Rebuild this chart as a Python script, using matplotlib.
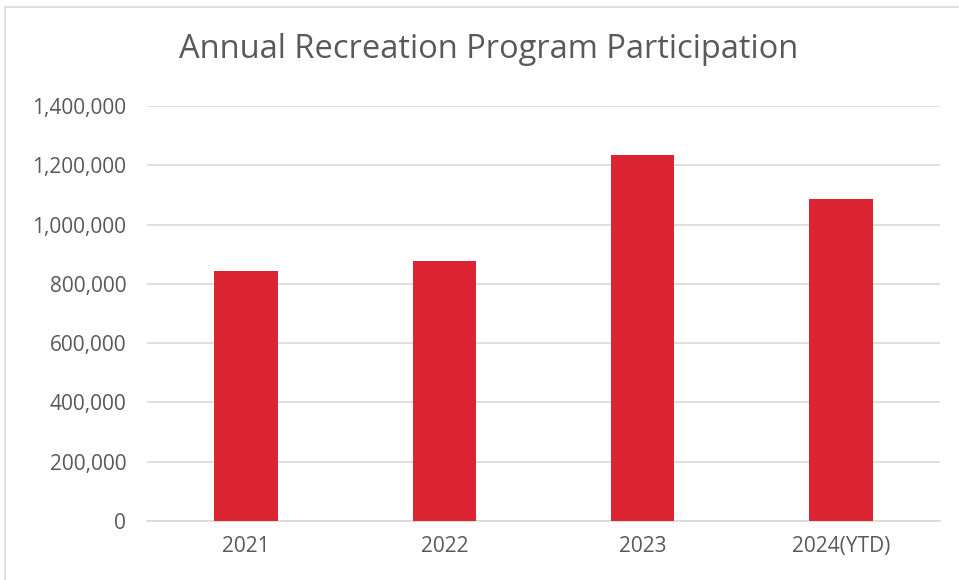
import matplotlib
matplotlib.use("Agg")
import matplotlib.pyplot as plt
from matplotlib.ticker import FuncFormatter
from matplotlib.patches import Rectangle

years = ["2021", "2022", "2023", "2024(YTD)"]
participants = [844000, 876000, 1234000, 1087000]

plt.rcParams['font.family'] = ['Open Sans', 'DejaVu Sans']

fig = plt.figure(figsize=(9.59, 5.8), dpi=100)
ax = fig.add_axes([0.1533, 0.1017, 0.9802 - 0.1533, 0.8172 - 0.1017])

# chart frame like the spreadsheet border
fig.patches.append(Rectangle((4.5 / 959, -0.1), 2.0, 1.1 - 6.5 / 580,
                             transform=fig.transFigure, fill=False,
                             edgecolor='#d9d9d9', linewidth=1.2))

ax.bar(range(len(years)), participants, width=0.32, color='#dc2433', zorder=3)

ax.set_xlim(-0.5, len(years) - 0.5)
ax.set_ylim(0, 1400000)
ax.set_yticks(range(0, 1400001, 200000))
ax.yaxis.set_major_formatter(FuncFormatter(lambda v, p: f"{int(v):,}"))
ax.set_xticks(range(len(years)))
ax.set_xticklabels(years)

ax.grid(axis='y', color='#d9d9d9', linewidth=1.2, zorder=0)
for s in ['top', 'right', 'left']:
    ax.spines[s].set_visible(False)
ax.spines['bottom'].set_color('#d9d9d9')
ax.spines['bottom'].set_linewidth(1.2)
ax.tick_params(axis='both', length=0, labelsize=15, colors='#595959')
ax.tick_params(axis='x', pad=11)
ax.tick_params(axis='y', pad=15)

fig.text(489 / 959, 1 - 50 / 580, "Annual Recreation Program Participation",
         ha='center', va='center', fontsize=23.5, color='#595959')

fig.savefig("out.png", dpi=100)
